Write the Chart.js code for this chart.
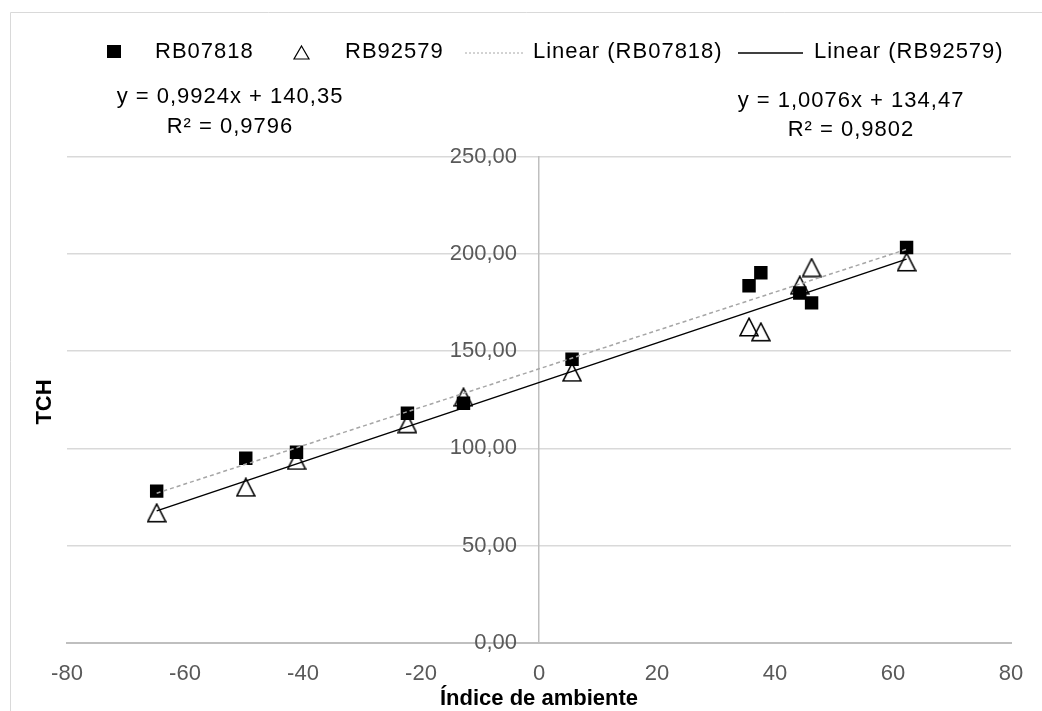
<!DOCTYPE html>
<html>
<head>
<meta charset="utf-8">
<script src="https://cdn.jsdelivr.net/npm/chart.js@4.4.1/dist/chart.umd.min.js"></script>
<style>
  html, body { margin: 0; padding: 0; background: #fff; }
  #wrap { width: 1042px; height: 711px; position: relative; }
</style>
</head>
<body>
<div id="wrap"><canvas id="chart" width="1042" height="711"></canvas></div>
<script>
// environment index (x) shared by both cultivars
const envIndex = [-64.8, -49.7, -41.1, -22.3, -12.8, 5.6, 35.6, 37.6, 44.2, 46.2, 62.3];
const tchRB07818 = [78.0, 94.9, 98.0, 118.1, 123.2, 145.9, 183.7, 190.4, 180.0, 174.9, 203.4];
const tchRB92579 = [66.8, 80.0, 93.8, 112.7, 126.4, 139.2, 162.5, 160.0, 184.0, 193.1, 196.0];
const seriesNames = ['RB07818', 'RB92579'];
const eqLabels = [
  ['y = 0,9924x + 140,35', 'R² = 0,9796'],
  ['y = 1,0076x + 134,47', 'R² = 0,9802']
];
const xTitle = 'Índice de ambiente';
const yTitle = 'TCH';

const FONT = '"Liberation Sans", Arial, sans-serif';

function fitLine(xs, ys) {
  const n = xs.length;
  const mx = xs.reduce((a, b) => a + b, 0) / n;
  const my = ys.reduce((a, b) => a + b, 0) / n;
  let sxy = 0, sxx = 0;
  for (let i = 0; i < n; i++) {
    sxy += (xs[i] - mx) * (ys[i] - my);
    sxx += (xs[i] - mx) * (xs[i] - mx);
  }
  const slope = sxy / sxx;
  const b = my - slope * mx;
  const x0 = Math.min(...xs), x1 = Math.max(...xs);
  return [{ x: x0, y: slope * x0 + b }, { x: x1, y: slope * x1 + b }];
}

const toPoints = (xs, ys) => xs.map((x, i) => ({ x: x, y: ys[i] }));

// open triangle marker, centred on its bounding box like the spreadsheet one
const tri = document.createElement('canvas');
tri.width = 20; tri.height = 20;
(function () {
  const c = tri.getContext('2d');
  c.strokeStyle = '#000';
  c.lineWidth = 1.5;
  c.beginPath();
  c.moveTo(10, 1.2);
  c.lineTo(19, 18.8);
  c.lineTo(1, 18.8);
  c.closePath();
  c.stroke();
})();

const decorations = {
  id: 'decorations',
  beforeDraw(chart) {
    const ctx = chart.ctx;
    ctx.save();
    ctx.strokeStyle = '#d9d9d9';
    ctx.lineWidth = 1;
    ctx.beginPath();
    ctx.moveTo(10.5, 711);
    ctx.lineTo(10.5, 12.5);
    ctx.lineTo(1042, 12.5);
    ctx.stroke();
    ctx.restore();
  },
  afterDraw(chart) {
    const ctx = chart.ctx;
    ctx.save();
    ctx.fillStyle = '#000';
    ctx.textBaseline = 'middle';
    ctx.font = '22px ' + FONT;
    ctx.letterSpacing = '1px';

    // legend
    const ly = 52;
    ctx.fillRect(107, ly - 7, 14, 13);
    ctx.textAlign = 'left';
    ctx.fillText(seriesNames[0], 155, ly);
    ctx.lineWidth = 1.2;
    ctx.strokeStyle = '#000';
    ctx.beginPath();
    ctx.moveTo(301.5, ly - 6);
    ctx.lineTo(309, ly + 7);
    ctx.lineTo(294, ly + 7);
    ctx.closePath();
    ctx.stroke();
    ctx.fillText(seriesNames[1], 345, ly);
    ctx.strokeStyle = '#a6a6a6';
    ctx.lineWidth = 1;
    ctx.setLineDash([2, 2]);
    ctx.beginPath();
    ctx.moveTo(465, ly + 1);
    ctx.lineTo(523, ly + 1);
    ctx.stroke();
    ctx.setLineDash([]);
    ctx.fillText('Linear (' + seriesNames[0] + ')', 533, ly);
    ctx.strokeStyle = '#000';
    ctx.lineWidth = 1.5;
    ctx.beginPath();
    ctx.moveTo(738, ly + 1);
    ctx.lineTo(803, ly + 1);
    ctx.stroke();
    ctx.fillText('Linear (' + seriesNames[1] + ')', 814, ly);

    // trendline equations
    ctx.textAlign = 'center';
    ctx.fillText(eqLabels[0][0], 230, 97);
    ctx.fillText(eqLabels[0][1], 230, 127);
    ctx.fillText(eqLabels[1][0], 851, 101);
    ctx.fillText(eqLabels[1][1], 851, 130);

    // axis titles
    ctx.letterSpacing = '0px';
    ctx.font = 'bold 22px ' + FONT;
    const xs = chart.scales.x;
    ctx.fillText(xTitle, xs.getPixelForValue(0), 699);
    ctx.translate(45, 402);
    ctx.rotate(-Math.PI / 2);
    ctx.fillText(yTitle, 0, 0);
    ctx.restore();
  }
};

new Chart(document.getElementById('chart'), {
  type: 'scatter',
  data: {
    datasets: [
      {
        label: 'Linear (' + seriesNames[0] + ')',
        type: 'line',
        data: fitLine(envIndex, tchRB07818),
        borderColor: '#a6a6a6',
        borderWidth: 1.5,
        borderDash: [4, 3],
        pointRadius: 0,
        fill: false,
        order: 0
      },
      {
        label: 'Linear (' + seriesNames[1] + ')',
        type: 'line',
        data: fitLine(envIndex, tchRB92579),
        borderColor: '#000',
        borderWidth: 1.5,
        pointRadius: 0,
        fill: false,
        order: 1
      },
      {
        label: seriesNames[0],
        data: toPoints(envIndex, tchRB07818),
        pointStyle: 'rect',
        pointRadius: 9.5,
        pointHoverRadius: 9.5,
        backgroundColor: '#000',
        borderColor: '#000',
        borderWidth: 0,
        order: 2
      },
      {
        label: seriesNames[1],
        data: toPoints(envIndex, tchRB92579),
        pointStyle: tri,
        pointRadius: 10,
        order: 3
      }
    ]
  },
  options: {
    responsive: false,
    devicePixelRatio: 1,
    animation: false,
    layout: { padding: { top: 157, left: 67, right: 31, bottom: 6 } },
    plugins: {
      legend: { display: false },
      tooltip: { enabled: false }
    },
    scales: {
      x: {
        type: 'linear',
        min: -80,
        max: 80,
        ticks: {
          stepSize: 20,
          padding: 18,
          color: '#595959',
          font: { family: FONT, size: 22 }
        },
        grid: { display: false, drawTicks: false },
        border: { display: true, color: '#bfbfbf', width: 2 },
        title: { display: false }
      },
      y: {
        type: 'linear',
        position: { x: 0 },
        min: 0,
        max: 250,
        ticks: {
          stepSize: 50,
          color: '#595959',
          font: { family: FONT, size: 22 },
          // keep the gap between the labels and the vertical axis
          callback: (v) => v.toFixed(2).replace('.', ',') + '\u2002\u2002'
        },
        grid: {
          drawTicks: false,
          color: (c) => (c.tick && c.tick.value === 0 ? '#bfbfbf' : '#d9d9d9'),
          lineWidth: 1.5
        },
        border: { display: true, color: '#bfbfbf', width: 1.5 }
      }
    }
  },
  plugins: [decorations]
});
</script>
</body>
</html>
